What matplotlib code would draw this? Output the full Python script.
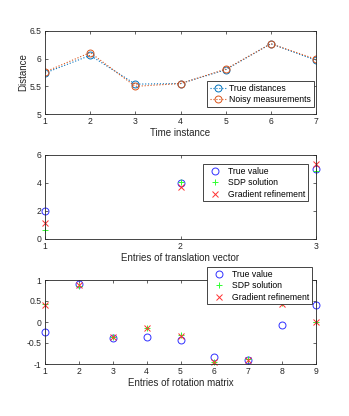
import matplotlib
matplotlib.use("Agg")
import matplotlib.pyplot as plt
import numpy as np

plt.rcParams['font.family'] = ['Liberation Sans', 'DejaVu Sans']

time_idx = [1, 2, 3, 4, 5, 6, 7]
true_dist = [5.74, 6.06, 5.54, 5.55, 5.80, 6.27, 5.97]
noisy_dist = [5.76, 6.11, 5.50, 5.55, 5.81, 6.27, 5.99]

trans_idx = [1, 2, 3]
trans_true = [2.0, 4.0, 5.0]
trans_sdp = [0.65, 4.05, 4.85]
trans_grad = [1.15, 3.7, 5.35]

rot_idx = [1, 2, 3, 4, 5, 6, 7, 8, 9]
rot_true = [-0.23, 0.90, -0.38, -0.36, -0.43, -0.83, -0.91, -0.06, 0.41]
rot_sdp = [0.42, 0.85, -0.35, -0.15, -0.30, -0.95, -0.88, 0.45, 0.0]
rot_grad = [0.40, 0.87, -0.36, -0.15, -0.33, -0.95, -0.90, 0.42, 0.0]

W, H = 349, 416
fig = plt.figure(figsize=(W/100, H/100), dpi=100)

def ax_at(l, t, r, b):
    return fig.add_axes([l/W, 1-b/H, (r-l)/W, (b-t)/H])

FS = 6.2
def style(ax):
    ax.tick_params(direction='in', top=True, right=True, labelsize=FS, length=2.5,
                   width=0.5, colors='#262626', pad=2.5)
    for s in ax.spines.values():
        s.set_linewidth(0.6)
        s.set_color('#262626')

def place_legend(ax, l, t, r, b, px_l, px_t, hl, htp):
    x = (px_l - l) / (r - l)
    y = 1 - (px_t - t) / (b - t)
    leg = ax.legend(loc='upper left', bbox_to_anchor=(x, y), fontsize=FS, fancybox=False,
                    edgecolor='#262626', borderaxespad=0, handlelength=hl, borderpad=0.3,
                    labelspacing=0.3, handletextpad=htp, framealpha=1, numpoints=1)
    leg.get_frame().set_linewidth(0.6)
    return leg

ax1 = ax_at(45, 31, 316, 114)
ax1.plot(time_idx, true_dist, ':o', color=(0, 0.447, 0.741), mfc='none', ms=5, lw=0.8,
         mew=0.7, label='True distances')
ax1.plot(time_idx, noisy_dist, ':o', color=(0.85, 0.325, 0.098), mfc='none', ms=5, lw=0.8,
         mew=0.7, label='Noisy measurements')
ax1.set_xlim(1, 7)
ax1.set_ylim(5, 6.5)
ax1.set_xticks(time_idx)
ax1.set_yticks([5, 5.5, 6, 6.5])
ax1.set_yticklabels(['5', '5.5', '6', '6.5'])
ax1.set_xlabel('Time instance', fontsize=7, labelpad=1, color='#262626')
ax1.set_ylabel('Distance', fontsize=7, labelpad=1, color='#262626')
style(ax1)
place_legend(ax1, 45, 31, 316, 114, 207, 81, 2.0, 0.3)

ax2 = ax_at(45, 155, 316, 239)
ax2.plot(trans_idx, trans_true, 'o', color='#3030ff', mfc='none', ms=5, mew=0.7,
         label='True value', clip_on=False)
ax2.plot(trans_idx, trans_sdp, '+', color='#30ff30', ms=5, mew=0.7,
         label='SDP solution', clip_on=False)
ax2.plot(trans_idx, trans_grad, 'x', color='#ff3030', ms=4, mew=0.7,
         label='Gradient refinement', clip_on=False)
ax2.set_xlim(1, 3)
ax2.set_ylim(0, 6)
ax2.set_xticks(trans_idx)
ax2.set_yticks([0, 2, 4, 6])
ax2.set_xlabel('Entries of translation vector', fontsize=7, labelpad=1, color='#262626')
style(ax2)
place_legend(ax2, 45, 155, 316, 239, 203, 164, 2.1, 0.5)

ax3 = ax_at(45, 280, 316, 364)
ax3.plot(rot_idx, rot_true, 'o', color='#3030ff', mfc='none', ms=5, mew=0.7,
         label='True value', clip_on=False)
ax3.plot(rot_idx, rot_sdp, '+', color='#30ff30', ms=5, mew=0.7,
         label='SDP solution', clip_on=False)
ax3.plot(rot_idx, rot_grad, 'x', color='#ff3030', ms=4, mew=0.7,
         label='Gradient refinement', clip_on=False)
ax3.set_xlim(1, 9)
ax3.set_ylim(-1, 1)
ax3.set_xticks(rot_idx)
ax3.set_yticks([-1, -0.5, 0, 0.5, 1])
ax3.set_yticklabels(['-1', '-0.5', '0', '0.5', '1'])
ax3.set_xlabel('Entries of rotation matrix', fontsize=7, labelpad=1, color='#262626')
style(ax3)
place_legend(ax3, 45, 280, 316, 364, 207, 267, 2.1, 0.5)

fig.savefig('out.png', dpi=100)
